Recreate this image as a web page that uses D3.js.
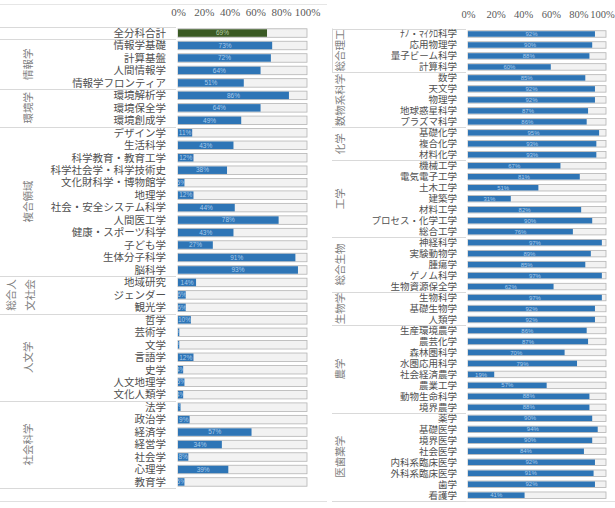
<!DOCTYPE html>
<html>
<head>
<meta charset="utf-8">
<script src="https://cdn.jsdelivr.net/npm/d3@7"></script>
<style>
body { margin: 0; background: #fff; }
svg { display: block; }
</style>
</head>
<body>
<svg width="615" height="508"></svg>
<script>
// data (percent)
var tickValues = [0, 20, 40, 60, 80, 100];

var leftCategories = ['全分科合計',
	'情報学基礎', '計算基盤', '人間情報学', '情報学フロンティア',
	'環境解析学', '環境保全学', '環境創成学',
	'デザイン学', '生活科学', '科学教育・教育工学', '科学社会学・科学技術史', '文化財科学・博物館学', '地理学',
	'社会・安全システム科学', '人間医工学', '健康・スポーツ科学', '子ども学', '生体分子科学', '脳科学',
	'地域研究', 'ジェンダー', '観光学',
	'哲学', '芸術学', '文学', '言語学', '史学', '人文地理学', '文化人類学',
	'法学', '政治学', '経済学', '経営学', '社会学', '心理学', '教育学'];
var leftValues = [69,
	73, 72, 64, 51,
	86, 64, 49,
	11, 43, 12, 38, 5, 12, 44, 78, 43, 27, 91, 93,
	14, 6, 6,
	10, 1, 1, 12, 4, 5, 4,
	2, 9, 57, 34, 8, 39, 5];
var leftGroups = ['', '情報学', '環境学', '複合領域', '総合人\n文社会', '人文学', '社会科学'];
var leftGroupSizes = [1, 4, 3, 12, 3, 7, 7];

var rightCategories = ['ﾅﾉ・ﾏｲｸﾛ科学', '応用物理学', '量子ビーム科学', '計算科学',
	'数学', '天文学', '物理学', '地球惑星科学', 'プラズマ科学',
	'基礎化学', '複合化学', '材料化学',
	'機械工学', '電気電子工学', '土木工学', '建築学', '材料工学', 'プロセス・化学工学', '総合工学',
	'神経科学', '実験動物学', '腫瘍学', 'ゲノム科学', '生物資源保全学',
	'生物科学', '基礎生物学', '人類学',
	'生産環境農学', '農芸化学', '森林圏科学', '水圏応用科学', '社会経済農学', '農業工学', '動物生命科学', '境界農学',
	'薬学', '基礎医学', '境界医学', '社会医学', '内科系臨床医学', '外科系臨床医学', '歯学', '看護学'];
var rightValues = [92, 90, 88, 60,
	85, 92, 92, 87, 86,
	95, 93, 93,
	67, 81, 51, 31, 82, 90, 76,
	97, 89, 85, 97, 62,
	97, 92, 92,
	86, 87, 70, 79, 19, 57, 88, 88,
	90, 94, 90, 84, 92, 91, 92, 41];
var rightGroups = ['総合理工', '数物系科学', '化学', '工学', '総合生物', '生物学', '農学', '医歯薬学'];
var rightGroupSizes = [4, 5, 3, 7, 5, 3, 8, 8];

var jp = '"Noto Sans CJK JP", sans-serif';
var svg = d3.select('svg');
var defs = svg.append('defs');

// faint frame lines of the two chart images
svg.append('line').attr('x1', 0).attr('x2', 327).attr('y1', 4.5).attr('y2', 4.5)
	.attr('stroke', '#e6e6e6');
svg.append('line').attr('x1', 0).attr('x2', 327).attr('y1', 501.5).attr('y2', 501.5)
	.attr('stroke', '#e0e0e0');
svg.append('line').attr('x1', 332).attr('x2', 615).attr('y1', 501.5).attr('y2', 501.5)
	.attr('stroke', '#e0e0e0');

function panel(opt) {
	var g = svg.append('g');
	var x = d3.scaleLinear().domain([0, 100]).range(opt.xRange);
	var y = d3.scaleBand().domain(opt.cats).range(opt.yRange).padding(0);
	var step = y.bandwidth();

	// top percent axis
	var axis = d3.axisTop(x).tickValues(tickValues).tickSize(0).tickPadding(0)
		.tickFormat(function(d){ return d + '%'; });
	var ax = g.append('g').attr('transform', 'translate(0,' + opt.axisY + ')').call(axis);
	ax.select('.domain').remove();
	ax.selectAll('text')
		.attr('font-family', '"Liberation Serif", serif')
		.attr('font-size', opt.axisFs)
		.attr('fill', '#595959')
		.attr('dx', function(d){ return d == 100 ? opt.lastDx : 0; });

	// group separators
	var bounds = [0], acc = 0;
	opt.sizes.forEach(function(n){ acc += n; bounds.push(acc); });
	g.selectAll('.sep').data(bounds).enter().append('line')
		.attr('x1', opt.sepX[0]).attr('x2', opt.sepX[1])
		.attr('y1', function(d){ return Math.round(opt.yRange[0] + d * step) + 0.5; })
		.attr('y2', function(d){ return Math.round(opt.yRange[0] + d * step) + 0.5; })
		.attr('stroke', '#d9d9d9');

	// group names, rotated
	opt.groups.forEach(function(name, i){
		if (!name) return;
		var cy = opt.yRange[0] + (bounds[i] + bounds[i + 1]) / 2 * step;
		var lines = name.split('\n');
		var gx = lines.length > 1 ? opt.groupX - 7 : opt.groupX;
		var t = g.append('text')
			.attr('transform', 'translate(' + gx + ',' + cy + ') rotate(-90)')
			.attr('text-anchor', 'middle')
			.attr('font-family', jp)
			.attr('font-size', 10.5)
			.attr('fill', '#7f7f7f');
		lines.forEach(function(l, j){
			t.append('tspan').attr('x', 0)
				.attr('dy', j == 0 ? (lines.length == 1 ? '0.35em' : (0.35 - (lines.length - 1) * 0.9) + 'em') : '1.8em')
				.text(l);
		});
	});

	var data = opt.cats.map(function(c, i){ return {cat: c, v: opt.vals[i], i: i}; });

	// category labels
	g.selectAll('.cat').data(data).enter().append('text')
		.attr('x', opt.labelX)
		.attr('y', function(d){ return y(d.cat) + step / 2; })
		.attr('dy', '0.36em')
		.attr('text-anchor', 'end')
		.attr('font-family', jp)
		.attr('font-size', opt.fs)
		.attr('fill', '#505050')
		.text(function(d){ return d.cat; });

	// 100% track
	g.selectAll('.track').data(data).enter().append('rect')
		.attr('x', x(0)).attr('width', x(100) - x(0))
		.attr('y', function(d){ return y(d.cat) + (step - opt.trackH) / 2; })
		.attr('height', opt.trackH)
		.attr('fill', '#f2f2f2')
		.attr('stroke', '#b4b4b4')
		.attr('stroke-width', 0.8);

	// value bars
	g.selectAll('.bar').data(data).enter().append('rect')
		.attr('x', x(0))
		.attr('width', function(d){ return x(d.v) - x(0); })
		.attr('y', function(d){ return y(d.cat) + (step - opt.barH) / 2; })
		.attr('height', opt.barH)
		.attr('fill', function(d){ return opt.green && d.i == 0 ? '#3a5a24' : '#2e75b6'; });

	// value labels, clipped to the bar
	data.forEach(function(d){
		var id = opt.id + d.i;
		defs.append('clipPath').attr('id', id).append('rect')
			.attr('x', x(0)).attr('width', x(d.v) - x(0))
			.attr('y', y(d.cat)).attr('height', step);
		g.append('text')
			.attr('clip-path', 'url(#' + id + ')')
			.attr('x', (x(0) + x(d.v)) / 2)
			.attr('y', y(d.cat) + step / 2)
			.attr('dy', '0.35em')
			.attr('text-anchor', 'middle')
			.attr('font-family', '"Liberation Sans", sans-serif')
			.attr('font-size', opt.vfs)
			.attr('fill', opt.green && d.i == 0 ? '#b7cfa6' : '#a9cbec')
			.text(d.v + '%');
	});
}

panel({
	id: 'l', cats: leftCategories, vals: leftValues, groups: leftGroups, sizes: leftGroupSizes,
	xRange: [178, 307], yRange: [26.8, 488.2], axisY: 15.5, axisFs: 11, lastDx: 0, sepX: [0, 176],
	labelX: 166, groupX: 28, fs: 10.5, vfs: 6.5, trackH: 8.5, barH: 7.5, green: true
});

panel({
	id: 'r', cats: rightCategories, vals: rightValues, groups: rightGroups, sizes: rightGroupSizes,
	xRange: [468, 606], yRange: [28.5, 500.7], axisY: 17.5, axisFs: 10.5, lastDx: -4, sepX: [332, 466],
	labelX: 457, groupX: 340, fs: 9.5, vfs: 6, trackH: 6.5, barH: 5.5, green: false
});

// short axis line on the right panel's label block
svg.append('line').attr('x1', 332.5).attr('x2', 332.5).attr('y1', 28.5).attr('y2', 72)
	.attr('stroke', '#d9d9d9');
</script>
</body>
</html>
